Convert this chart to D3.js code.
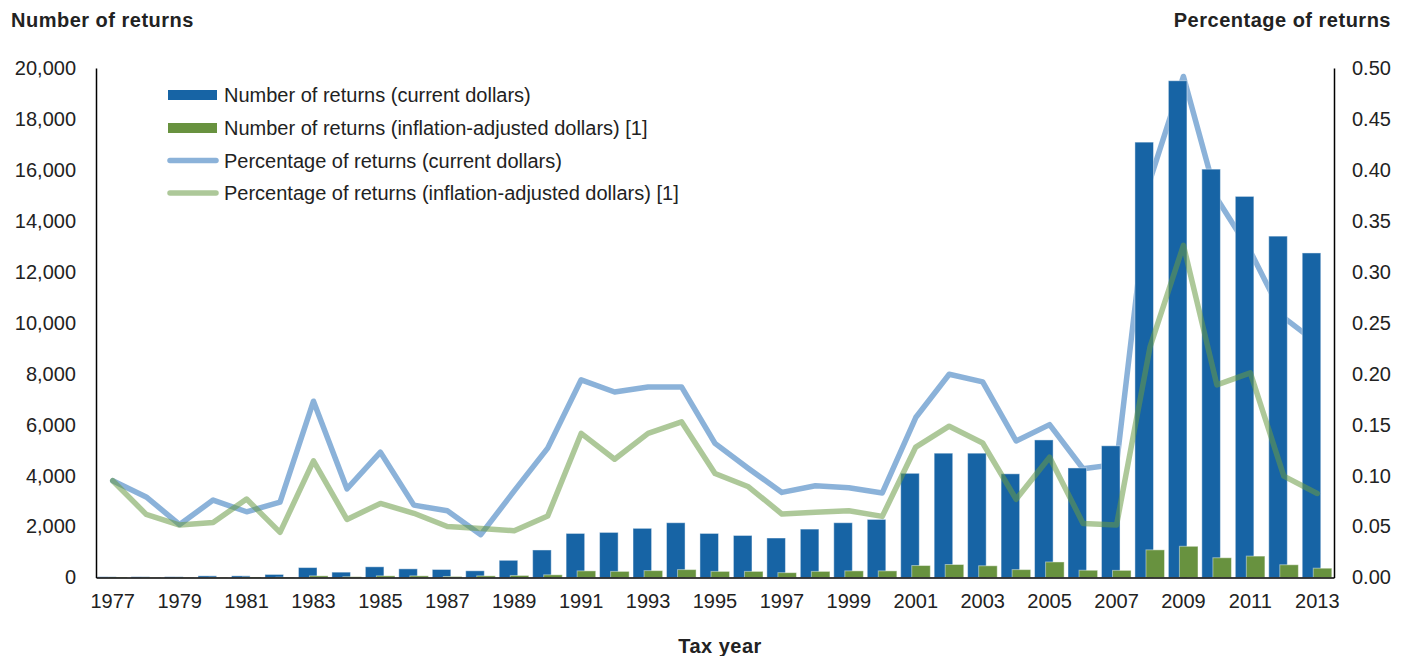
<!DOCTYPE html>
<html>
<head>
<meta charset="utf-8">
<script src="https://cdn.jsdelivr.net/npm/d3@7"></script>
<style>
  html, body { margin: 0; padding: 0; background: #fff; }
  svg { display: block; font-family: Arial, "Liberation Sans", sans-serif; }
</style>
</head>
<body>
<div id="chart"></div>
<script>
const years = d3.range(1977, 2014);

// Number of returns, current dollars (left axis)
const countCurrent = [
    30, 30, 30, 65, 65, 120, 390, 210, 420, 340, 315, 263, 675,
    1080, 1730, 1770, 1930, 2150, 1730, 1650, 1550, 1900, 2150, 2280,
    4090, 4880, 4880, 4070, 5400, 4300, 5170, 17090, 19500, 16030, 14960, 13400, 12740
];

// Number of returns, inflation-adjusted dollars (left axis)
const countAdjusted = [
    20, 10, 10, 10, 20, 15, 65, 30, 65, 65, 40, 65, 80,
    105, 260, 240, 270, 310, 240, 240, 190, 240, 260, 260,
    470, 510, 460, 310, 610, 285, 280, 1085, 1225, 775, 840, 500, 365
];

// Percentage of returns, current dollars (right axis)
const pctCurrent = [
    0.095, 0.079, 0.052, 0.076, 0.0645, 0.074, 0.173, 0.087, 0.123, 0.071, 0.0655, 0.042, 0.085,
    0.127, 0.194, 0.182, 0.187, 0.187, 0.1316, 0.107, 0.0835, 0.090, 0.088, 0.083,
    0.157, 0.1995, 0.192, 0.134, 0.150, 0.1067, 0.111, 0.39, 0.4917, 0.372, 0.32, 0.255, 0.23
];

// Percentage of returns, inflation-adjusted dollars (right axis)
const pctAdjusted = [
    0.095, 0.062, 0.0515, 0.054, 0.077, 0.0443, 0.1145, 0.057, 0.0727, 0.063, 0.050, 0.048, 0.0459,
    0.0603, 0.1414, 0.116, 0.1414, 0.1528, 0.102, 0.089, 0.0623, 0.064, 0.0655, 0.060,
    0.128, 0.1485, 0.132, 0.0767, 0.118, 0.053, 0.0515, 0.226, 0.326, 0.189, 0.2008, 0.0995, 0.0825
];

const leftTicks = d3.range(0, 20001, 2000);
const rightTicks = d3.range(0, 0.501, 0.05);
const xLabelYears = years.filter(y => (y - 1977) % 2 === 0);

const legendLabels = [
    'Number of returns (current dollars)',
    'Number of returns (inflation-adjusted dollars) [1]',
    'Percentage of returns (current dollars)',
    'Percentage of returns (inflation-adjusted dollars) [1]'
];

const colors = {
    barCurrent: '#1764a5',
    barAdjusted: '#68923f',
    lineCurrent: '#3e7fc0',
    lineAdjusted: '#6a9a45',
    text: '#222'
};

const W = 1408, H = 656;
const margin = { top: 68, right: 74, bottom: 78.5, left: 96 };
const innerW = W - margin.left - margin.right;
const innerH = H - margin.top - margin.bottom;

const svg = d3.select('#chart').append('svg')
    .attr('width', W)
    .attr('height', H);

const g = svg.append('g')
    .attr('transform', `translate(${margin.left},${margin.top})`);

const x = d3.scaleBand()
    .domain(years)
    .range([0, innerW])
    .padding(0);

const yLeft = d3.scaleLinear().domain([0, 20000]).range([innerH, 0]);
const yRight = d3.scaleLinear().domain([0, 0.5]).range([innerH, 0]);

const bw = x.bandwidth();
const barW = bw * 0.555;

const rows = years.map((yr, i) => ({
    year: yr,
    cur: countCurrent[i],
    adj: countAdjusted[i],
    pCur: pctCurrent[i],
    pAdj: pctAdjusted[i]
}));

// current-dollar percentage line sits behind the bars
const lineCur = d3.line()
    .x(d => x(d.year) + bw / 2)
    .y(d => yRight(d.pCur));

g.append('path')
    .datum(rows)
    .attr('fill', 'none')
    .attr('stroke', colors.lineCurrent)
    .attr('stroke-opacity', 0.6)
    .attr('stroke-width', 5.5)
    .attr('stroke-linejoin', 'round')
    .attr('stroke-linecap', 'round')
    .attr('d', lineCur);

// Bars
g.append('g').selectAll('rect')
    .data(rows)
    .join('rect')
    .attr('x', d => x(d.year) + bw * 0.05)
    .attr('y', d => yLeft(d.cur))
    .attr('width', barW)
    .attr('height', d => innerH - yLeft(d.cur))
    .attr('fill', colors.barCurrent)
    .attr('stroke', 'rgba(255,255,255,0.45)')
    .attr('stroke-width', 1);

g.append('g').selectAll('rect')
    .data(rows)
    .join('rect')
    .attr('x', d => x(d.year) + bw * 0.38)
    .attr('y', d => yLeft(d.adj))
    .attr('width', barW)
    .attr('height', d => innerH - yLeft(d.adj))
    .attr('fill', colors.barAdjusted)
    .attr('stroke', 'rgba(255,255,255,0.45)')
    .attr('stroke-width', 1);

// inflation-adjusted percentage line on top
const lineAdj = d3.line()
    .x(d => x(d.year) + bw / 2)
    .y(d => yRight(d.pAdj));

g.append('path')
    .datum(rows)
    .attr('fill', 'none')
    .attr('stroke', colors.lineAdjusted)
    .attr('stroke-opacity', 0.55)
    .attr('stroke-width', 5.5)
    .attr('stroke-linejoin', 'round')
    .attr('stroke-linecap', 'round')
    .attr('d', lineAdj);

// Axes
const leftAxis = d3.axisLeft(yLeft)
    .tickValues(leftTicks)
    .tickFormat(d3.format(','))
    .tickSize(0)
    .tickPadding(20);

const rightAxis = d3.axisRight(yRight)
    .tickValues(rightTicks)
    .tickFormat(d3.format('.2f'))
    .tickSize(0)
    .tickPadding(18);

const bottomAxis = d3.axisBottom(x)
    .tickValues(xLabelYears)
    .tickSize(0)
    .tickPadding(16);

function styleAxis(sel) {
    sel.select('.domain')
        .attr('stroke', '#000')
        .attr('stroke-width', 1.5);
    sel.selectAll('text')
        .attr('fill', colors.text)
        .style('font-size', '20px')
        .style('font-family', 'Arial, "Liberation Sans", sans-serif');
}

g.append('g').call(leftAxis).call(styleAxis);
g.append('g').attr('transform', `translate(${innerW},0)`).call(rightAxis).call(styleAxis);
g.append('g').attr('transform', `translate(0,${innerH})`).call(bottomAxis).call(styleAxis);

// Axis titles
function title(xPos, yPos, anchor, label) {
    svg.append('text')
        .attr('x', xPos)
        .attr('y', yPos)
        .attr('text-anchor', anchor)
        .attr('fill', colors.text)
        .style('font-size', '20px')
        .style('font-weight', 'bold')
        .style('letter-spacing', '0.5px')
        .text(label);
}

title(11, 27, 'start', 'Number of returns');
title(1391, 27, 'end', 'Percentage of returns');
title(720, 653, 'middle', 'Tax year');

// Legend
const legend = svg.append('g').attr('transform', 'translate(168,0)');
const legendRowY = [95, 128, 160.5, 193];

legendLabels.forEach((label, i) => {
    const cy = legendRowY[i];
    if (i < 2) {
        legend.append('rect')
            .attr('x', 0)
            .attr('y', cy - 5)
            .attr('width', 49)
            .attr('height', 10)
            .attr('fill', i === 0 ? colors.barCurrent : colors.barAdjusted);
    } else {
        legend.append('line')
            .attr('x1', 2)
            .attr('x2', 48)
            .attr('y1', cy)
            .attr('y2', cy)
            .attr('stroke', i === 2 ? colors.lineCurrent : colors.lineAdjusted)
            .attr('stroke-opacity', i === 2 ? 0.6 : 0.55)
            .attr('stroke-width', 5.5)
            .attr('stroke-linecap', 'round');
    }
    legend.append('text')
        .attr('x', 56)
        .attr('y', cy + 7)
        .attr('fill', colors.text)
        .style('font-size', '20px')
        .text(label);
});
</script>
</body>
</html>
